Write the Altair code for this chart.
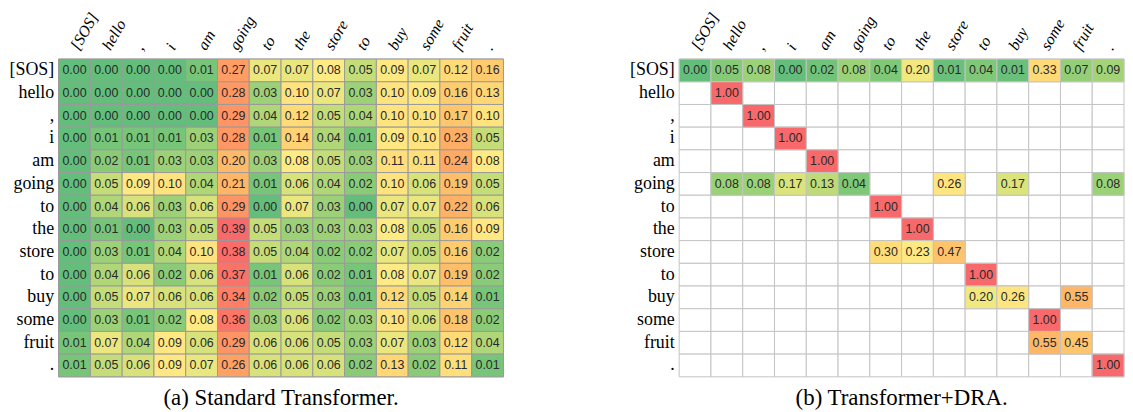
import json
import altair as alt
import pandas as pd

tokens = ["[SOS]", "hello", ",", "i", "am", "going", "to", "the",
          "store", "to", "buy", "some", "fruit", "."]

# (a) Standard Transformer attention (rows = query token, cols = key token)
std_attn = [
    [0.00, 0.00, 0.00, 0.00, 0.01, 0.27, 0.07, 0.07, 0.08, 0.05, 0.09, 0.07, 0.12, 0.16],
    [0.00, 0.00, 0.00, 0.00, 0.00, 0.28, 0.03, 0.10, 0.07, 0.03, 0.10, 0.09, 0.16, 0.13],
    [0.00, 0.00, 0.00, 0.00, 0.00, 0.29, 0.04, 0.12, 0.05, 0.04, 0.10, 0.10, 0.17, 0.10],
    [0.00, 0.01, 0.01, 0.01, 0.03, 0.28, 0.01, 0.14, 0.04, 0.01, 0.09, 0.10, 0.23, 0.05],
    [0.00, 0.02, 0.01, 0.03, 0.03, 0.20, 0.03, 0.08, 0.05, 0.03, 0.11, 0.11, 0.24, 0.08],
    [0.00, 0.05, 0.09, 0.10, 0.04, 0.21, 0.01, 0.06, 0.04, 0.02, 0.10, 0.06, 0.19, 0.05],
    [0.00, 0.04, 0.06, 0.03, 0.06, 0.29, 0.00, 0.07, 0.03, 0.00, 0.07, 0.07, 0.22, 0.06],
    [0.00, 0.01, 0.00, 0.03, 0.05, 0.39, 0.05, 0.03, 0.03, 0.03, 0.08, 0.05, 0.16, 0.09],
    [0.00, 0.03, 0.01, 0.04, 0.10, 0.38, 0.05, 0.04, 0.02, 0.02, 0.07, 0.05, 0.16, 0.02],
    [0.00, 0.04, 0.06, 0.02, 0.06, 0.37, 0.01, 0.06, 0.02, 0.01, 0.08, 0.07, 0.19, 0.02],
    [0.00, 0.05, 0.07, 0.06, 0.06, 0.34, 0.02, 0.05, 0.03, 0.01, 0.12, 0.05, 0.14, 0.01],
    [0.00, 0.03, 0.01, 0.02, 0.08, 0.36, 0.03, 0.06, 0.02, 0.03, 0.10, 0.06, 0.18, 0.02],
    [0.01, 0.07, 0.04, 0.09, 0.06, 0.29, 0.06, 0.06, 0.05, 0.03, 0.07, 0.03, 0.12, 0.04],
    [0.01, 0.05, 0.06, 0.09, 0.07, 0.26, 0.06, 0.06, 0.06, 0.02, 0.13, 0.02, 0.11, 0.01],
]

N = None
# (b) Transformer+DRA attention (None = empty cell)
dra_attn = [
    [0.00, 0.05, 0.08, 0.00, 0.02, 0.08, 0.04, 0.20, 0.01, 0.04, 0.01, 0.33, 0.07, 0.09],
    [N, 1.00, N, N, N, N, N, N, N, N, N, N, N, N],
    [N, N, 1.00, N, N, N, N, N, N, N, N, N, N, N],
    [N, N, N, 1.00, N, N, N, N, N, N, N, N, N, N],
    [N, N, N, N, 1.00, N, N, N, N, N, N, N, N, N],
    [N, 0.08, 0.08, 0.17, 0.13, 0.04, N, N, 0.26, N, 0.17, N, N, 0.08],
    [N, N, N, N, N, N, 1.00, N, N, N, N, N, N, N],
    [N, N, N, N, N, N, N, 1.00, N, N, N, N, N, N],
    [N, N, N, N, N, N, 0.30, 0.23, 0.47, N, N, N, N, N],
    [N, N, N, N, N, N, N, N, N, 1.00, N, N, N, N],
    [N, N, N, N, N, N, N, N, N, 0.20, 0.26, N, 0.55, N],
    [N, N, N, N, N, N, N, N, N, N, N, 1.00, N, N],
    [N, N, N, N, N, N, N, N, N, N, N, 0.55, 0.45, N],
    [N, N, N, N, N, N, N, N, N, N, N, N, N, 1.00],
]

GREEN, YELLOW, RED = "#63BE7B", "#FFEB84", "#F8696B"


def to_long(matrix):
    recs = []
    for r, row in enumerate(matrix):
        for c, v in enumerate(row):
            recs.append({"row": r, "col": c, "value": v})
    return pd.DataFrame(recs)


label_expr = json.dumps(tokens) + "[datum.value]"


def heat(matrix, mid, top, caption, stroke):
    df = to_long(matrix)
    base = alt.Chart(df)
    x = alt.X("col:O", title=None,
              scale=alt.Scale(paddingInner=0, paddingOuter=0),
              axis=alt.Axis(orient="top", labelExpr=label_expr, labelAngle=-60,
                            labelAlign="left", labelBaseline="middle",
                            labelFont="Liberation Serif", labelFontStyle="italic",
                            labelFontSize=16, labelPadding=11, minExtent=46,
                            domain=False, ticks=False, labelColor="black"))
    y = alt.Y("row:O", title=None,
              scale=alt.Scale(paddingInner=0, paddingOuter=0),
              axis=alt.Axis(orient="left", labelExpr=label_expr,
                            labelFont="Liberation Serif", labelFontSize=18,
                            labelPadding=5, minExtent=51, labelAlign="right",
                            domain=False, ticks=False, labelColor="black"))
    grid = base.mark_rect(fill="white", stroke=stroke, strokeWidth=1).encode(x=x, y=y)
    valid = "isValid(datum.value)"
    cells = base.transform_filter(valid).mark_rect(stroke=stroke, strokeWidth=1).encode(
        x=x, y=y,
        color=alt.Color("value:Q", legend=None,
                        scale=alt.Scale(domain=[0, mid, top], range=[GREEN, YELLOW, RED])))
    text = base.transform_filter(valid).mark_text(
        font="Liberation Sans", fontSize=12.5, color="#2a2a2a").encode(
        x=x, y=y, text=alt.Text("value:Q", format=".2f"))
    return alt.layer(grid, cells, text).properties(
        width=448, height=320,
        title=alt.TitleParams(caption, orient="bottom", anchor="middle", frame="group",
                              font="Liberation Serif", fontSize=23, fontWeight="normal",
                              color="black", offset=10))


left = heat(std_attn, 0.08, 0.39, "(a)  Standard Transformer.", "#9a9a9a")
right = heat(dra_attn, 0.22, 1.0, "(b)  Transformer+DRA.", "#c4c4c4")

chart = alt.hconcat(left, right, spacing=125).resolve_scale(
    color="independent"
).properties(
    padding=0, background="white"
).configure_view(stroke=None)

chart.save("out.html", embed_options={"renderer": "svg", "actions": False})
